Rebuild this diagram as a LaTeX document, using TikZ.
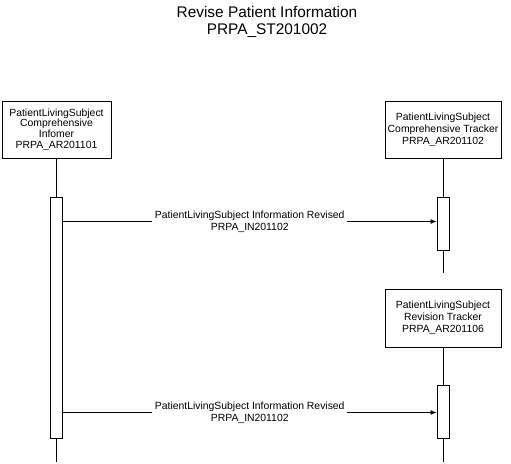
\documentclass[tikz,border=0pt]{standalone}
\usepackage{fontspec}
\setmainfont{Liberation Sans}
\usetikzlibrary{arrows.meta}
\tikzset{
  lifebox/.style={draw, line width=.9pt, align=center, inner sep=0pt, minimum height=57pt, minimum width=116pt, font=\fontsize{10.4}{11.8}\selectfont},
  actbar/.style={draw, line width=.9pt, fill=white, inner sep=0pt, minimum width=12pt},
  life/.style={line width=.9pt},
  msg/.style={line width=.9pt, -{Latex[length=6pt,width=5pt]}},
  msglabel/.style={fill=white, inner sep=2.5pt, align=center, font=\fontsize{10.4}{11.8}\selectfont},
}

\begin{document}
\begin{tikzpicture}[x=1pt,y=-1pt]
\useasboundingbox (0,0) rectangle (511,463);
% title
\node[align=center, font=\fontsize{15.4}{16.5}\selectfont] (title) at (267,22) {Revise Patient Information\\PRPA\_ST201002};
% roles
\node[lifebox, minimum width=109pt, font=\fontsize{10.4}{10.6}\selectfont] (informer) at (56.5,129.5) {PatientLivingSubject\\Comprehensive\\Infomer\\PRPA\_AR201101};
\node[lifebox] (tracker) at (443,129.5) {PatientLivingSubject\\Comprehensive Tracker\\PRPA\_AR201102};
\node[lifebox, minimum height=58pt] (revtracker) at (443,318) {PatientLivingSubject\\Revision Tracker\\PRPA\_AR201106};
% activations
\node[actbar, minimum height=241pt] (barL) at (56.5,317.5) {};
\node[actbar, minimum height=53pt] (barR1) at (443,223.5) {};
\node[actbar, minimum height=53pt] (barR2) at (443,411.5) {};
\coordinate (endL) at (56.5,462);
\coordinate (endR1) at (443,273);
\coordinate (endR2) at (443,462);
% lifelines
\draw[life] (informer.south) -- (barL.north);
\draw[life] (barL.south) -- (endL);
\draw[life] (tracker.south) -- (barR1.north);
\draw[life] (barR1.south) -- (endR1);
\draw[life] (revtracker.south) -- (barR2.north);
\draw[life] (barR2.south) -- (endR2);
% messages
\coordinate (m1) at (0,221.5);
\coordinate (m2) at (0,412.5);
\draw[msg] (barL.east |- m1) -- (barR1.west |- m1) node[msglabel, midway] {PatientLivingSubject Information Revised\\PRPA\_IN201102};
\draw[msg] (barL.east |- m2) -- (barR2.west |- m2) node[msglabel, midway] {PatientLivingSubject Information Revised\\PRPA\_IN201102};
\end{tikzpicture}
\end{document}
